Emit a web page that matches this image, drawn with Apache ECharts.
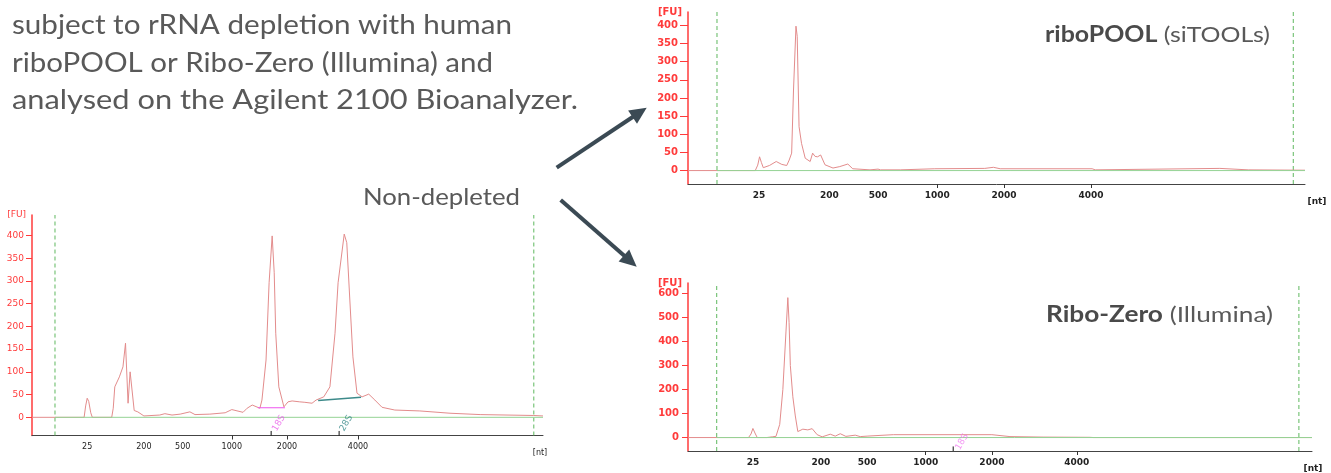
<!DOCTYPE html>
<html><head><meta charset="utf-8">
<script src="https://cdn.jsdelivr.net/npm/echarts@6/dist/echarts.min.js"></script>
<style>html,body{margin:0;padding:0;background:#fff}#c{width:1331px;height:473px}</style>
</head><body><div id="c"></div>
<script>
// ---------- DATA ----------
// x = migration position (% of run window), y = fluorescence [FU]
const tickLabels = ['25', '200', '500', '1000', '2000', '4000'];
const nonDepletedTicks = [10.8, 21.9, 29.5, 39.1, 49.9, 63.8];
const riboPoolTicks = [11.5, 22.9, 30.8, 40.4, 51.2, 65.3];
const riboZeroTicks = [10.4, 21.3, 28.7, 38.1, 48.7, 62.3];

const yTicks400 = [0, 50, 100, 150, 200, 250, 300, 350, 400];
const yTicks600 = [0, 100, 200, 300, 400, 500, 600];

const nonDepletedMarkers = [4.5, 98.2];
const riboPoolMarkers = [4.7, 98.1];
const riboZeroMarkers = [4.6, 97.9];

const nonDepletedFU = [
  [0,0],[9.8,0],[10.2,0],[10.5,25],[10.8,42],[11.1,35],[11.5,10],[11.8,0],[15.6,0],[15.9,20],
  [16.2,67],[17.1,89],[17.8,111],[18.3,163],[18.8,31],[19.2,100],[20.0,15],[20.7,12],[21.9,3],
  [25.0,5],[26.0,8],[27.4,5],[29.0,7],[30.9,12],[31.9,6],[34.8,7],[37.8,10],[39.1,17],[41.3,11],
  [42.1,20],[43.1,27],[44.6,20],[45.0,38],[45.8,126],[46.4,296],[47.0,399],[47.4,318],[47.7,185],
  [48.3,67],[49.3,23],[50.1,34],[50.9,36],[52.4,34],[53.4,33],[54.8,31],[55.6,38],[57.1,45],
  [58.3,67],[59.3,185],[59.9,296],[61.1,403],[61.6,384],[62.2,258],[62.8,133],[63.6,53],[64.6,45],
  [65.9,51],[67.1,38],[68.5,22],[71.0,16],[75.9,14],[81.8,9],[87.7,6],[98.2,4],[100,3]
];
const riboPoolFU = [
  [0,0],[10.9,0],[11.3,15],[11.6,38],[11.9,22],[12.2,8],[13.2,14],[14.3,25],[15.2,17],[16.0,14],
  [16.4,29],[16.8,48],[17.1,222],[17.5,398],[17.7,370],[18.0,121],[18.4,75],[19.0,34],[19.8,25],
  [20.2,48],[20.6,39],[21.0,38],[21.5,43],[22.2,16],[23.5,7],[24.6,11],[25.9,18],[26.7,5],[29.5,2],
  [30.8,4],[31.2,2],[34.4,2],[40.0,5],[48.1,6],[49.5,9],[50.6,5],[65.5,5],[66.0,2],[86.2,6],
  [90.8,2],[100,1]
];
const riboZeroFU = [
  [0,0],[9.7,0],[10.1,15],[10.4,38],[10.8,15],[11.1,0],[12.6,0],[13.5,3],[14.1,5],[14.7,55],
  [15.2,200],[15.7,440],[16.0,583],[16.2,480],[16.4,300],[16.8,170],[17.2,90],[17.6,25],[18.4,35],
  [19.2,32],[19.9,37],[20.7,12],[21.5,3],[22.8,14],[23.6,6],[24.4,16],[25.3,5],[26.8,10],[27.6,4],
  [28.7,6],[32.9,12],[48.7,12],[49.0,8],[51.6,4],[56.9,2],[64.4,1],[65,0],[100,0]
];

// rRNA peak annotations: [tick position, label position, label level]
const nonDepleted18S = [46.8, 48.3, -13];
const nonDepleted28S = [60.1, 61.5, -13];
const riboZero18S = [42.5, 43.9, -18];
// integration baselines under rRNA peaks
const nonDepleted18SBase = [[44.2, 21], [49.5, 21]];
const nonDepleted28SBase = [[56.0, 37], [64.4, 44]];

// ---------- CHART ----------
const chart = echarts.init(document.getElementById('c'), null, {renderer: 'canvas'});
const TRACE = '#e38c8c', BASE = '#95d395', DASH = '#5fb85f', RED = '#ff3b3b';

const panels = [
  {grid: {left: 32, top: 215, width: 511, height: 220.5}, ticks: nonDepletedTicks, yTicks: yTicks400,
   yMin: -40, yMax: 445, data: nonDepletedFU, markers: nonDepletedMarkers, bold: false,
   yFont: 9, xFont: 8, yMargin: 8, yTickLen: 6, ntGap: -3},
  {grid: {left: 688, top: 12, width: 617, height: 172}, ticks: riboPoolTicks, yTicks: yTicks400,
   yMin: -37, yMax: 437, data: riboPoolFU, markers: riboPoolMarkers, bold: true,
   yFont: 10, xFont: 9, yMargin: 10, yTickLen: 8, ntGap: 12},
  {grid: {left: 688, top: 283, width: 624, height: 174.7}, ticks: riboZeroTicks, yTicks: yTicks600,
   yMin: -56, yMax: 644, data: riboZeroFU, markers: riboZeroMarkers, bold: true,
   yFont: 10, xFont: 9, yMargin: 9, yTickLen: 6, ntGap: 1}
];

const grids = [], xAxes = [], yAxes = [], series = [];
panels.forEach((p, i) => {
  grids.push(Object.assign({containLabel: false}, p.grid));
  xAxes.push({
    type: 'value', gridIndex: i, min: 0, max: 100,
    axisLine: {onZero: false, lineStyle: {color: '#444', width: 1}},
    axisTick: {show: true, customValues: p.ticks.slice(3), length: 4, lineStyle: {color: '#333'}},
    axisLabel: {
      customValues: p.ticks, margin: 7, color: '#222', fontSize: p.xFont,
      fontFamily: 'DejaVu Sans', fontWeight: p.bold ? 'bold' : 'normal',
      formatter: v => tickLabels[p.ticks.indexOf(v)]
    },
    splitLine: {show: false},
    name: '[nt]', nameLocation: 'end', nameGap: p.ntGap,
    nameTextStyle: {color: '#222', fontSize: p.xFont, fontFamily: 'DejaVu Sans',
      fontWeight: p.bold ? 'bold' : 'normal', align: 'center', verticalAlign: 'top', padding: [13, 0, 0, 0]}
  });
  yAxes.push({
    type: 'value', gridIndex: i, min: p.yMin, max: p.yMax,
    axisLine: {show: true, lineStyle: {color: RED, width: 1.5}},
    axisTick: {show: true, customValues: p.yTicks, length: p.yTickLen, lineStyle: {color: RED}},
    axisLabel: {customValues: p.yTicks, margin: p.yMargin, color: RED, fontSize: p.yFont,
      fontFamily: 'DejaVu Sans', fontWeight: p.bold ? 'bold' : 'normal'},
    splitLine: {show: false},
    name: '[FU]', nameLocation: 'end', nameGap: 0,
    nameTextStyle: {color: RED, fontSize: p.yFont, fontFamily: 'DejaVu Sans',
      fontWeight: p.bold ? 'bold' : 'normal', align: 'right', verticalAlign: 'middle', padding: [0, 6, 0, 0]}
  });
  // vertical dashed run-window markers
  p.markers.forEach(m => series.push({
    type: 'line', xAxisIndex: i, yAxisIndex: i, data: [[m, p.yMin], [m, p.yMax]],
    showSymbol: false, lineStyle: {color: DASH, width: 1, type: [4, 3]}, z: 1, silent: true
  }));
  series.push({
    type: 'line', xAxisIndex: i, yAxisIndex: i, data: p.data, showSymbol: false,
    lineStyle: {color: TRACE, width: 1}, z: 2, silent: true
  });
  series.push({
    type: 'line', xAxisIndex: i, yAxisIndex: i, data: [[p.markers[0], 0], [100, 0]],
    showSymbol: false, lineStyle: {color: BASE, width: 1}, z: 3, silent: true
  });
});

function peakLabel(gi, arr, name, color, yMin, tickTop) {
  series.push({
    type: 'scatter', xAxisIndex: gi, yAxisIndex: gi, data: [[arr[1], arr[2]]],
    symbolSize: 0, itemStyle: {color: 'rgba(0,0,0,0)'}, silent: true, z: 4,
    label: {show: true, position: 'inside', formatter: name, rotate: 60, color: color,
      fontSize: 9, fontFamily: 'DejaVu Sans'}
  });
  series.push({
    type: 'line', xAxisIndex: gi, yAxisIndex: gi, data: [[arr[0], yMin], [arr[0], tickTop]],
    showSymbol: false, lineStyle: {color: '#111', width: 1}, z: 4, silent: true
  });
}
peakLabel(0, nonDepleted18S, '18S', '#e85ce8', -40, -30);
peakLabel(0, nonDepleted28S, '28S', '#2f8585', -40, -30);
peakLabel(2, riboZero18S, '18S', '#f07af0', -56, -37);
series.push({type: 'line', xAxisIndex: 0, yAxisIndex: 0, data: nonDepleted18SBase, showSymbol: false,
  lineStyle: {color: '#ee55ee', width: 1.2}, z: 4, silent: true});
series.push({type: 'line', xAxisIndex: 0, yAxisIndex: 0, data: nonDepleted28SBase, showSymbol: false,
  lineStyle: {color: '#3d8a8a', width: 1.5}, z: 4, silent: true});

// ---------- annotations (text & arrows) ----------
const TXT = '#595959', ARW = '#3b4a54';
const FAM = 'Lato';
const mctx = document.createElement('canvas').getContext('2d');
function measure(text, font) { mctx.font = font; return mctx.measureText(text).width; }

function fitText(text, size, x, yc, targetW) {
  const font = size + 'px ' + FAM;
  const w = measure(text, font);
  return {type: 'text', x: x, y: yc, scaleX: targetW / w, scaleY: 1,
    style: {x: 0, y: 0, text: text, fill: TXT, font: font, verticalAlign: 'middle', align: 'left'}};
}
function fitRich(bold, normal, size, x, yc, targetW) {
  const fb = 'bold ' + size + 'px ' + FAM, fn = size + 'px ' + FAM;
  const w = measure(bold, fb) + measure(' ' + normal, fn);
  return {type: 'text', x: x, y: yc, scaleX: targetW / w, scaleY: 1,
    style: {x: 0, y: 0, text: '{b|' + bold + '}{n| ' + normal + '}', verticalAlign: 'middle', align: 'left',
      rich: {b: {fill: '#4a4a4a', font: fb}, n: {fill: TXT, font: fn}}}};
}
function arrow(x1, y1, x2, y2) {
  const ang = Math.atan2(y2 - y1, x2 - x1), L = 17, W = 8;
  const bx = x2 - L * Math.cos(ang), by = y2 - L * Math.sin(ang);
  const px = -Math.sin(ang) * W, py = Math.cos(ang) * W;
  return [
    {type: 'line', shape: {x1: x1, y1: y1, x2: bx + 2 * Math.cos(ang), y2: by + 2 * Math.sin(ang)},
     style: {stroke: ARW, lineWidth: 4}},
    {type: 'polygon', shape: {points: [[x2, y2], [bx + px, by + py], [bx - px, by - py]]},
     style: {fill: ARW}}
  ];
}
const graphic = [
  fitText('subject to rRNA depletion with human', 27, 12, 25, 500),
  fitText('riboPOOL or Ribo-Zero (Illumina) and', 27, 12, 63, 481),
  fitText('analysed on the Agilent 2100 Bioanalyzer.', 27, 12, 100, 566),
  fitText('Non-depleted', 24, 363, 197, 157),
  fitRich('riboPOOL', '(siTOOLs)', 22, 1045, 35, 225),
  fitRich('Ribo-Zero', '(Illumina)', 22, 1046, 315, 227)
].concat(arrow(556.7, 167.7, 646.7, 107.7), arrow(560.7, 200, 636.7, 266.7));

chart.setOption({
  animation: false,
  backgroundColor: '#ffffff',
  grid: grids, xAxis: xAxes, yAxis: yAxes, series: series, graphic: graphic
});
</script></body></html>
